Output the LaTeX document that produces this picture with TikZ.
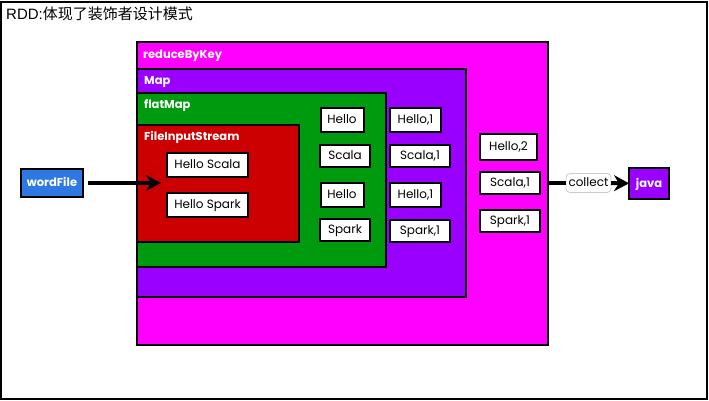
\documentclass[tikz,border=0pt]{standalone}
\usepackage{fontspec}
\setmainfont{Poppins}
\newfontfamily\titlefont{Liberation Sans}
\newfontfamily\cjk{Noto Sans CJK SC}
\usetikzlibrary{arrows.meta}
\definecolor{penBlue}{HTML}{2E78E4}
\definecolor{penMagenta}{HTML}{FF00FF}
\definecolor{penPurple}{HTML}{9900FF}
\definecolor{penGreen}{HTML}{009A0E}
\definecolor{penRed}{HTML}{CC0000}
\tikzset{>=stealth,
	layer/.style={draw=black,line width=2pt,anchor=north west,inner sep=0pt,outer sep=0pt},
	layertext/.style={text=white,anchor=west,font=\fontsize{11.5}{13}\selectfont\bfseries,inner sep=0pt,text height=10pt,text depth=2.5pt},
	word/.style={draw=black,line width=2pt,fill=white,text=black,inner sep=0pt,outer sep=0pt,minimum height=22pt,font=\fontsize{12}{13}\selectfont,text height=10pt,text depth=2.5pt},
	endbox/.style={draw=black,line width=2pt,text=white,inner sep=0pt,outer sep=0pt,font=\fontsize{11.5}{13}\selectfont\bfseries,text height=10pt,text depth=2.5pt},
	flow/.style={line width=4pt,-{Stealth[length=15pt,width=16pt]}}
}
\begin{document}
\begin{tikzpicture}[x=1pt,y=-1pt]
	\useasboundingbox (0,0) rectangle (709,401);
	\node [layer,fill=white,minimum width=706pt,minimum height=397pt] (frame) at (1,2) {};
	\node [anchor=west,inner sep=0pt,font=\fontsize{15}{16}\selectfont] (title) at (6,14) {\titlefont RDD:\cjk 体现了装饰者设计模式};

	% nested layers
	\node [layer,fill=penMagenta,minimum width=411pt,minimum height=303pt] (reduce) at (137,42) {};
	\node [layer,fill=penPurple,minimum width=329pt,minimum height=228pt] (map) at (137,69) {};
	\node [layer,fill=penGreen,minimum width=249pt,minimum height=174pt] (flat) at (137,93) {};
	\node [layer,fill=penRed,minimum width=162pt,minimum height=117pt] (stream) at (137,125) {};
	\node [layertext] (reduceText) at (143,55) {reduceByKey};
	\node [layertext] (mapText) at (144,81) {Map};
	\node [layertext] (flatText) at (144,105) {flatMap};
	\node [layertext] (streamText) at (144,137) {FileInputStream};

	% words
	\node [word,minimum width=81pt,minimum height=24pt] (lineA) at (207.5,165) {Hello Scala};
	\node [word,minimum width=81pt,minimum height=24pt] (lineB) at (207.5,205) {Hello Spark};
	\node [word,minimum width=43pt,minimum height=24pt] (wordA) at (342,120) {Hello};
	\node [word,minimum width=50pt] (wordB) at (345,156) {Scala};
	\node [word,minimum width=43pt,minimum height=24pt] (wordC) at (342,195) {Hello};
	\node [word,minimum width=50pt] (wordD) at (345,230) {Spark};
	\node [word,minimum width=51pt,minimum height=24pt] (pairA) at (415.5,120) {Hello,1};
	\node [word,minimum width=60pt] (pairB) at (420,156) {Scala,1};
	\node [word,minimum width=51pt,minimum height=24pt] (pairC) at (415.5,195) {Hello,1};
	\node [word,minimum width=60pt] (pairD) at (420,230.5) {Spark,1};
	\node [word,minimum width=57pt,minimum height=26pt] (sumA) at (508.5,147) {Hello,2};
	\node [word,minimum width=60pt] (sumB) at (510,183) {Scala,1};
	\node [word,minimum width=60pt] (sumC) at (510,220.5) {Spark,1};

	% input and output
	\node [endbox,fill=penBlue,minimum width=62pt,minimum height=28pt] (wordFile) at (52,183) {wordFile};
	\node [endbox,fill=penPurple,minimum width=40pt,minimum height=31pt] (java) at (649,183.5) {java};
	\node [draw=black!20,line width=0.8pt,rounded corners=4pt,fill=white,inner sep=0pt,outer sep=0pt,minimum width=45pt,minimum height=19pt,font=\fontsize{12}{13}\selectfont,text height=10pt,text depth=2.5pt] (collect) at (588.5,183) {collect};
	\coordinate (streamIn) at (161,183);

	\draw [flow,shorten <=5pt] (wordFile) -- (streamIn);
	\draw [line width=4pt] (reduce.east |- collect) -- (collect);
	\draw [flow] (collect) -- (java);
\end{tikzpicture}
\end{document}
